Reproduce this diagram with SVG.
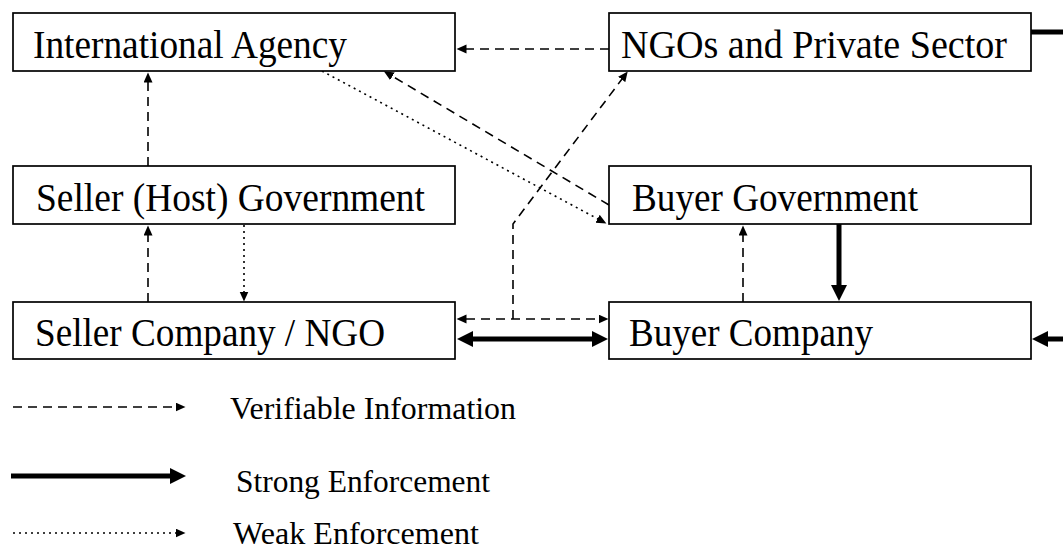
<svg xmlns="http://www.w3.org/2000/svg" width="1063" height="552" viewBox="0 0 1063 552">
  <style>
    .box { fill: #fff; stroke: #000; stroke-width: 1.7; }
    .label { font-family: "Liberation Serif", "Times New Roman", serif; font-size: 40px; fill: #000; }
    .legend-text { font-family: "Liberation Serif", "Times New Roman", serif; font-size: 31px; fill: #000; }
    .info { fill: none; stroke: #000; stroke-width: 1.6; stroke-dasharray: 9 6; }
    .weak { fill: none; stroke: #000; stroke-width: 1.6; stroke-dasharray: 2 4; }
    .strong { fill: none; stroke: #000; stroke-width: 5; }
  </style>
  <defs>
    <marker id="head" markerUnits="userSpaceOnUse" markerWidth="11" markerHeight="10" refX="0.5" refY="4.5" orient="auto-start-reverse" viewBox="0 0 11 10">
      <path d="M0,0 L10,4.5 L0,9 Z" fill="#000"/>
    </marker>
    <marker id="head-strong" markerUnits="userSpaceOnUse" markerWidth="17" markerHeight="17" refX="1" refY="8" orient="auto-start-reverse" viewBox="0 0 17 17">
      <path d="M0,0 L16,8 L0,16 Z" fill="#000"/>
    </marker>
  </defs>

  <rect width="1063" height="552" fill="#fff"/>

  <!-- connectors -->
  <g id="connectors">
    <!-- NGOs -> International Agency -->
    <line class="info" x1="609" y1="49" x2="466" y2="49" marker-end="url(#head)"/>
    <!-- NGOs -> off to the right -->
    <line class="strong" x1="1031" y1="32" x2="1063" y2="32"/>
    <!-- Seller Government -> International Agency -->
    <line class="info" x1="148" y1="166" x2="148" y2="82" marker-end="url(#head)"/>
    <!-- Seller Company -> Seller Government -->
    <line class="info" x1="148" y1="302" x2="148" y2="235" marker-end="url(#head)"/>
    <!-- Seller Government -> Seller Company -->
    <line class="weak" x1="244" y1="225" x2="244" y2="292" marker-end="url(#head)"/>
    <!-- International Agency -> Buyer Government -->
    <line class="weak" x1="322" y1="71" x2="598" y2="219" marker-end="url(#head)"/>
    <!-- Buyer Government -> International Agency -->
    <line class="info" x1="609" y1="205" x2="392" y2="76" marker-end="url(#head)"/>
    <!-- Seller Company <-> Buyer Company (information) -->
    <line class="info" x1="466" y1="319" x2="599" y2="319" marker-start="url(#head)" marker-end="url(#head)"/>
    <!-- information link up to NGOs and Private Sector -->
    <path class="info" d="M513,319 V224 L622,79" marker-end="url(#head)"/>
    <!-- Seller Company <-> Buyer Company (strong) -->
    <line class="strong" x1="472" y1="339" x2="593" y2="339" marker-start="url(#head-strong)" marker-end="url(#head-strong)"/>
    <!-- Buyer Company -> Buyer Government -->
    <line class="info" x1="743" y1="302" x2="743" y2="235" marker-end="url(#head)"/>
    <!-- Buyer Government -> Buyer Company -->
    <line class="strong" x1="839" y1="223" x2="839" y2="286" marker-end="url(#head-strong)"/>
    <!-- incoming strong link from the right -->
    <line class="strong" x1="1063" y1="339" x2="1047" y2="339" marker-end="url(#head-strong)"/>
  </g>

  <!-- nodes -->
  <g id="international-agency">
    <rect class="box" x="13" y="13" width="442" height="58"/>
    <text class="label" x="33" y="58" textLength="314" lengthAdjust="spacingAndGlyphs">International Agency</text>
  </g>
  <g id="ngos-private-sector">
    <rect class="box" x="609" y="13" width="422" height="58"/>
    <text class="label" x="621" y="58" textLength="386" lengthAdjust="spacingAndGlyphs">NGOs and Private Sector</text>
  </g>
  <g id="seller-government">
    <rect class="box" x="13" y="166" width="442" height="58"/>
    <text class="label" x="36" y="211" textLength="389" lengthAdjust="spacingAndGlyphs">Seller (Host) Government</text>
  </g>
  <g id="buyer-government">
    <rect class="box" x="609" y="166" width="422" height="58"/>
    <text class="label" x="632" y="211" textLength="286" lengthAdjust="spacingAndGlyphs">Buyer Government</text>
  </g>
  <g id="seller-company">
    <rect class="box" x="13" y="302" width="442" height="57"/>
    <text class="label" x="35" y="346" textLength="350" lengthAdjust="spacingAndGlyphs">Seller Company / NGO</text>
  </g>
  <g id="buyer-company">
    <rect class="box" x="609" y="302" width="422" height="57"/>
    <text class="label" x="629" y="346" textLength="244" lengthAdjust="spacingAndGlyphs">Buyer Company</text>
  </g>

  <!-- legend -->
  <g id="legend">
    <line class="info" x1="13" y1="407" x2="176" y2="407" marker-end="url(#head)"/>
    <text class="legend-text" x="230" y="419" textLength="286" lengthAdjust="spacingAndGlyphs">Verifiable Information</text>
    <line class="strong" x1="11" y1="476" x2="171" y2="476" marker-end="url(#head-strong)"/>
    <text class="legend-text" x="236" y="492" textLength="254" lengthAdjust="spacingAndGlyphs">Strong Enforcement</text>
    <line class="weak" x1="13" y1="533" x2="176" y2="533" marker-end="url(#head)"/>
    <text class="legend-text" x="233" y="544" textLength="246" lengthAdjust="spacingAndGlyphs">Weak Enforcement</text>
  </g>
</svg>
